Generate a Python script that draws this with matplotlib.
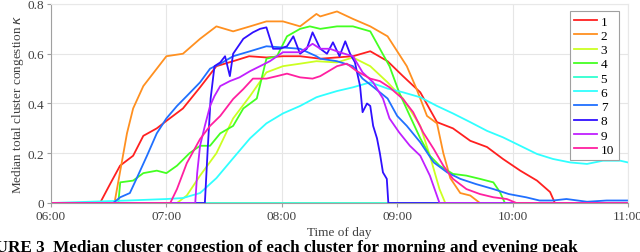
import numpy as np
import matplotlib
matplotlib.use("Agg")
import matplotlib.pyplot as plt

plt.rcParams['font.family'] = ['Liberation Serif', 'DejaVu Serif']

# minutes after 06:00 and median congestion
t1 = [0, 25.5, 30.7, 35.9, 42.7, 48, 55, 60, 68.6, 77.5, 86, 94.7, 103, 112, 120.6, 129.5, 140,
      157, 166, 175, 183, 192, 200.7, 209, 218, 226.7, 235, 244, 252.7, 259.5, 262, 300]
v1 = [0, 0, 0.076, 0.15, 0.19, 0.27, 0.30, 0.33, 0.38, 0.465, 0.55, 0.57, 0.59, 0.585, 0.59, 0.59, 0.58,
      0.59, 0.61, 0.57, 0.51, 0.445, 0.325, 0.30, 0.25, 0.225, 0.177, 0.13, 0.09, 0.044, 0, 0]

t2 = [0, 33, 39.5, 42.7, 48, 55, 60, 68.6, 77.5, 86, 94.7, 103.5, 112, 120.6, 129.5, 138, 140,
      148.7, 157, 166, 175, 180, 185, 190, 195.5, 200.7, 204, 207.6, 212.8, 218, 223, 300]
v2 = [0, 0, 0.28, 0.38, 0.47, 0.54, 0.59, 0.60, 0.66, 0.71, 0.69, 0.71, 0.73, 0.73, 0.71, 0.76, 0.75,
      0.77, 0.74, 0.71, 0.67, 0.61, 0.55, 0.46, 0.35, 0.32, 0.20, 0.10, 0.04, 0.03, 0, 0]

t3 = [0, 65.5, 70.6, 77.5, 86, 94.7, 103.5, 112, 120.6, 129.5, 138,
      148.7, 157, 166, 175, 183, 192, 197, 202, 205, 300]
v3 = [0, 0, 0.03, 0.11, 0.20, 0.34, 0.43, 0.525, 0.55, 0.56, 0.57,
      0.565, 0.585, 0.55, 0.485, 0.42, 0.31, 0.19, 0.056, 0, 0]

t4 = [0, 35, 36, 42.7, 48, 55, 60, 65.5, 72, 77.5, 82.7, 88, 94.7, 100, 107, 112, 117.5, 122.7,
      129.5, 134.6, 140, 148.7, 157, 166, 171, 176, 181, 186.6, 192, 197, 202, 209, 216, 223,
      230, 233.5, 236, 300]
v4 = [0, 0, 0.083, 0.09, 0.12, 0.13, 0.12, 0.15, 0.20, 0.23, 0.23, 0.28, 0.31, 0.38, 0.42, 0.58, 0.59, 0.67,
      0.70, 0.71, 0.70, 0.71, 0.71, 0.69, 0.62, 0.55, 0.445, 0.35, 0.26, 0.19, 0.15, 0.117, 0.11, 0.097,
      0.083, 0.043, 0, 0]

t5 = [0, 300]
v5 = [0, 0]

t6 = [0, 40, 60, 68.6, 77.5, 86, 94.7, 103.5, 112, 120.6, 129.5, 138, 140, 148.7, 157, 166, 175,
      183, 192, 200.7, 209, 218, 226.7, 235, 244, 252.7, 261, 270, 278.7, 287, 296, 300]
v6 = [0, 0.01, 0.016, 0.02, 0.04, 0.10, 0.18, 0.26, 0.32, 0.36, 0.39, 0.425, 0.43, 0.45, 0.465, 0.485, 0.46,
      0.445, 0.425, 0.39, 0.36, 0.325, 0.29, 0.264, 0.23, 0.197, 0.177, 0.163, 0.157, 0.17, 0.17, 0.163]

t7 = [0, 32.3, 36, 41, 44.6, 49.9, 55, 60, 65.5, 70.6, 77.5, 82.7, 88, 94.7, 103.5, 112, 120.6, 129.5,
      138, 140, 148.7, 157, 162, 167, 175, 180, 185, 192, 199, 206, 212.8, 221, 230, 238, 247, 254,
      261, 268, 278.7, 288.9, 300]
v7 = [0, 0, 0.023, 0.04, 0.10, 0.19, 0.28, 0.34, 0.39, 0.43, 0.485, 0.54, 0.56, 0.59, 0.61, 0.63, 0.625, 0.62,
      0.59, 0.58, 0.57, 0.55, 0.50, 0.47, 0.42, 0.35, 0.31, 0.244, 0.163, 0.123, 0.097, 0.076, 0.056, 0.036, 0.023, 0.01,
      0.01, 0.016, 0.005, 0.01, 0.01]

t8 = [0, 80, 81.5, 83, 85, 88, 90.5, 93, 94.7, 100, 105, 108.7, 112, 115.5, 119, 122.7, 126, 129.5,
      133, 136, 140, 143.5, 146.6, 150, 153, 155.5, 158, 160.7, 162, 164.3, 166, 167.5, 169.5, 171,
      172.6, 174.6, 175.4, 300]
v8 = [0, 0, 0.22, 0.42, 0.55, 0.565, 0.59, 0.51, 0.60, 0.66, 0.686, 0.70, 0.706, 0.62, 0.62, 0.63, 0.67, 0.60,
      0.62, 0.686, 0.62, 0.60, 0.646, 0.59, 0.65, 0.60, 0.566, 0.47, 0.365, 0.40, 0.39, 0.31, 0.26, 0.20,
      0.123, 0.097, 0, 0]

t9 = [0, 75, 76, 77.5, 80, 82.7, 85, 88, 93, 98, 103.5, 108.7, 113.8, 120.6, 129.5, 136, 140,
      145, 150, 157, 162, 167.5, 172.6, 176, 181, 186.6, 192, 197, 202, 300]
v9 = [0, 0, 0.12, 0.23, 0.31, 0.39, 0.43, 0.47, 0.49, 0.505, 0.53, 0.55, 0.57, 0.606, 0.606, 0.64, 0.62,
      0.62, 0.606, 0.59, 0.525, 0.485, 0.42, 0.34, 0.284, 0.23, 0.19, 0.11, 0, 0]

t10 = [0, 62, 65.5, 70.6, 77.5, 82.7, 88, 94.7, 100, 105, 112, 117.5, 122.7, 129.5, 136, 140,
       148.7, 153.8, 159, 166, 171, 176, 183, 188.3, 193.5, 199, 204, 209, 216, 223, 230, 237, 242, 300]
v10 = [0, 0, 0.056, 0.16, 0.257, 0.31, 0.35, 0.418, 0.458, 0.50, 0.50, 0.51, 0.52, 0.505, 0.50, 0.51,
       0.55, 0.56, 0.53, 0.50, 0.49, 0.465, 0.418, 0.365, 0.284, 0.217, 0.15, 0.097, 0.056, 0.036, 0.023, 0.016, 0, 0]

times = [t1, t2, t3, t4, t5, t6, t7, t8, t9, t10]
values = [v1, v2, v3, v4, v5, v6, v7, v8, v9, v10]
labels = ['1', '2', '3', '4', '5', '6', '7', '8', '9', '10']
colors = ['#ff2020', '#ff9020', '#ccff22', '#44ff22', '#30ffd0',
          '#30ffff', '#2070ff', '#3010ff', '#c020ff', '#ff20a0']

tick_pos = [0, 60, 120, 180, 240, 300]
tick_labels = ['06:00', '07:00', '08:00', '09:00', '10:00', '11:00']

fig = plt.figure(figsize=(6.4, 2.53), dpi=100)
ax = fig.add_axes([0.0797, 0.1937, 0.9015, 0.7866])

for t, v, lab, c in zip(times, values, labels, colors):
    ax.plot(t, v, color=c, lw=1.3, label=lab)

ax.set_xlim(0, 300)
ax.set_ylim(0, 0.8)
ax.set_xticks(tick_pos)
ax.set_xticklabels(tick_labels)
ax.set_yticks([0, 0.2, 0.4, 0.6, 0.8])
ax.set_yticklabels(['0', '0.2', '0.4', '0.6', '0.8'])
ax.grid(True, color='#e6e6e6', lw=0.8)
ax.set_axisbelow(True)
for s in ['top', 'right']:
    ax.spines[s].set_color('#e8e8e8')
for s in ['left', 'bottom']:
    ax.spines[s].set_color('#a0a0a0')
ax.tick_params(labelsize=9.5, colors='#404040', length=3, width=0.8, pad=2)
ax.tick_params(axis='both', color='#a0a0a0')

ax.set_xlabel('Time of day', fontsize=9.5, color='#404040', labelpad=3)
ax.set_ylabel('Median total cluster congestion $\\kappa$', fontsize=9.5, color='#404040', labelpad=1)

leg = ax.legend(loc='upper right', bbox_to_anchor=(0.984, 0.965), borderaxespad=0,
                fontsize=9.5, handlelength=1.7, labelspacing=0.15, handletextpad=0.3,
                borderpad=0.35, fancybox=False, framealpha=1, edgecolor='#a0a0a0')
leg.get_frame().set_linewidth(0.8)

# caption runs off the left edge in the source, as in the scan
fig.text(0.902, 0.004, 'FIGURE 3  Median cluster congestion of each cluster for morning and evening peak',
         ha='right', va='baseline', fontsize=12.3, fontweight='bold', color='black')

fig.savefig('out.png', dpi=100)
